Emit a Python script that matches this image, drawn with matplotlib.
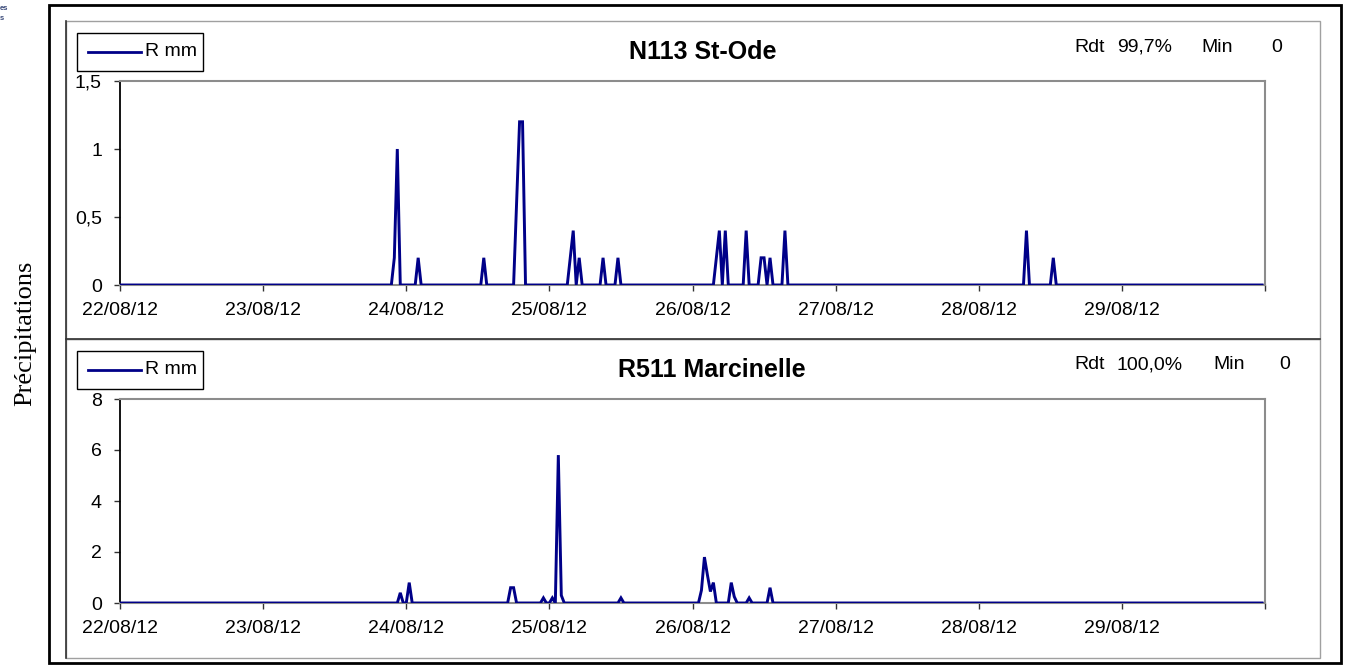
import numpy as np
import pandas as pd
import matplotlib
matplotlib.use("Agg")
import matplotlib.pyplot as plt
from matplotlib.patches import Rectangle
from matplotlib.lines import Line2D

# ---------------- data (half-hourly rainfall, mm) ----------------
start = "2012-08-22 00:00"
n_steps = 384  # 8 days of 30-min steps

# non-zero half-hour steps (index from 22/08/12 00:00) and values
n113_idx = [92, 93, 100, 122, 133, 134, 135, 151, 152, 154, 162, 167,
            200, 201, 203, 210, 215, 216, 218, 223, 304, 313]
n113_val = [0.2, 1.0, 0.2, 0.2, 0.6, 1.2, 1.2, 0.2, 0.4, 0.2, 0.2, 0.2,
            0.2, 0.4, 0.4, 0.4, 0.2, 0.2, 0.2, 0.4, 0.4, 0.2]

r511_idx = [94, 97, 131, 132, 142, 145, 147, 148, 168, 195, 196, 197,
            198, 199, 205, 206, 211, 218]
r511_val = [0.4, 0.8, 0.6, 0.6, 0.2, 0.2, 5.8, 0.3, 0.2, 0.5, 1.8, 1.1,
            0.45, 0.8, 0.8, 0.25, 0.2, 0.6]

titles = ["N113 St-Ode", "R511 Marcinelle"]
rdt = ["99,7%", "100,0%"]
min_vals = ["0", "0"]
legend_label = "R mm"
ylabel = "Précipitations"
y_ticks = [[0, 0.5, 1, 1.5], [0, 2, 4, 6, 8]]
y_ticklabels = [["0", "0,5", "1", "1,5"], ["0", "2", "4", "6", "8"]]
day_ticks = pd.date_range("2012-08-22", "2012-08-30", freq="D")

times = pd.date_range(start, periods=n_steps, freq="30min")
s1 = np.zeros(n_steps); s1[n113_idx] = n113_val
s2 = np.zeros(n_steps); s2[r511_idx] = r511_val
series = [s1, s2]

# ---------------- layout ----------------
W, H = 1346, 668
fig = plt.figure(figsize=(W / 100, H / 100), dpi=100)
fig.patch.set_facecolor("white")
plt.rcParams["font.family"] = ["Liberation Sans", "DejaVu Sans"]

def fx(x): return x / W
def fy(y): return 1 - y / H

def frect(x0, y0, x1, y1, **kw):
    r = Rectangle((fx(x0), fy(y1)), fx(x1) - fx(x0), fy(y0) - fy(y1),
                  transform=fig.transFigure, fill=False, **kw)
    fig.patches.append(r)

# outer black frame
frect(49, 5, 1341, 663, edgecolor="black", linewidth=2.0)
# chart panels
frect(66, 21, 1320, 339, edgecolor="#a0a0a0", linewidth=1.0)
frect(66, 339, 1320, 658, edgecolor="#a0a0a0", linewidth=1.0)
fig.lines.append(Line2D([fx(66), fx(1320)], [fy(339), fy(339)],
                        transform=fig.transFigure, color="#333333", lw=1.2))
fig.lines.append(Line2D([fx(66), fx(66)], [fy(21), fy(658)],
                        transform=fig.transFigure, color="#333333", lw=1.2))

# cropped logo remnant
fig.text(fx(0), fy(8), "es", fontsize=5.5, color="#3a4a7a", va="center", ha="left", fontweight="bold")
fig.text(fx(0), fy(18), "s", fontsize=5.5, color="#3a4a7a", va="center", ha="left", fontweight="bold")

# y label
fig.text(fx(25), fy(333), ylabel, rotation=90, ha="center", va="center",
         fontsize=19, family=["Liberation Serif", "DejaVu Serif"])

navy = "#000088"
panel_tops = [21, 339]
axes_px = [(120, 81, 1265, 285), (120, 399, 1265, 603)]

for k in range(2):
    x0, y0, x1, y1 = axes_px[k]
    ax = fig.add_axes([fx(x0), fy(y1), fx(x1) - fx(x0), fy(y0) - fy(y1)])
    ax.plot(times, series[k], color=navy, lw=2.1, solid_joinstyle="miter", zorder=3)
    ax.set_xlim(day_ticks[0], day_ticks[-1])
    ax.set_ylim(y_ticks[k][0], y_ticks[k][-1])
    ax.set_yticks(y_ticks[k])
    ax.set_yticklabels(y_ticklabels[k])
    ax.set_xticks(day_ticks)
    ax.set_xticklabels([d.strftime("%d/%m/%y") for d in day_ticks[:-1]] + [""])
    for side in ["top", "right", "bottom"]:
        ax.spines[side].set_color("#8c8c8c")
        ax.spines[side].set_linewidth(1.5)
    ax.spines["left"].set_color("black")
    ax.spines["left"].set_linewidth(1.3)
    ax.tick_params(axis="x", direction="out", length=4.3, width=1.0, color="#333333",
                   pad=8, labelsize=14)
    ax.tick_params(axis="y", direction="out", length=4.0, width=1.0, color="#333333",
                   pad=9, labelsize=14)
    ax.set_facecolor("white")

    top = panel_tops[k]
    # legend box
    frect(77, top + 12, 203, top + 50, edgecolor="black", linewidth=1.0)
    ly = top + 31
    fig.lines.append(Line2D([fx(88), fx(141)], [fy(ly), fy(ly)],
                            transform=fig.transFigure, color=navy, lw=2.0))
    fig.text(fx(145), fy(ly), legend_label, ha="left", va="center", fontsize=14)
    # title
    fig.text(fx(703 + 9 * k), fy(top + 31), titles[k], ha="center", va="center",
             fontsize=18, fontweight="bold")
    # Rdt / Min
    fig.text(fx(1074), fy(top + 26), "Rdt", ha="left", va="center", fontsize=14)
    fig.text(fx(1117), fy(top + 26), rdt[k], ha="left", va="center", fontsize=14)
    fig.text(fx(1201 + 12 * k), fy(top + 26), "Min", ha="left", va="center", fontsize=14)
    fig.text(fx(1271 + 8 * k), fy(top + 26), min_vals[k], ha="left", va="center", fontsize=14)

fig.savefig("out.png", dpi=100, facecolor="white")
